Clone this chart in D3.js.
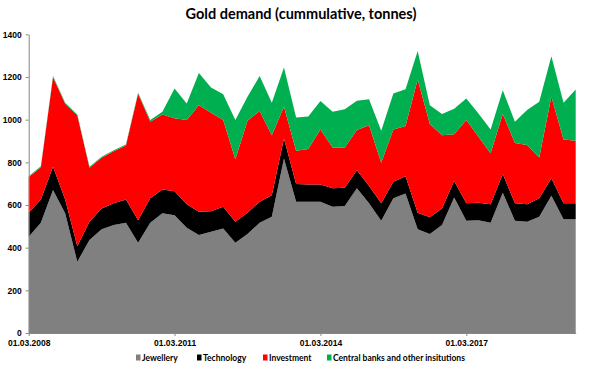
<!DOCTYPE html>
<html>
<head>
<meta charset="utf-8">
<script src="https://cdn.jsdelivr.net/npm/d3@7"></script>
<style>
  body { margin: 0; background: #fff; }
  svg { display: block; font-family: Lato, 'Open Sans', sans-serif; }
  .axis text { font-size: 8.5px; font-weight: bold; fill: #000; }
  .axis path, .axis line { stroke: #868686; }
</style>
</head>
<body>
<script>
// quarterly dates, 01.03.2008 .. 01.06.2019
const quarters = [
  '01.03.2008', '01.06.2008', '01.09.2008', '01.12.2008',
  '01.03.2009', '01.06.2009', '01.09.2009', '01.12.2009',
  '01.03.2010', '01.06.2010', '01.09.2010', '01.12.2010',
  '01.03.2011', '01.06.2011', '01.09.2011', '01.12.2011',
  '01.03.2012', '01.06.2012', '01.09.2012', '01.12.2012',
  '01.03.2013', '01.06.2013', '01.09.2013', '01.12.2013',
  '01.03.2014', '01.06.2014', '01.09.2014', '01.12.2014',
  '01.03.2015', '01.06.2015', '01.09.2015', '01.12.2015',
  '01.03.2016', '01.06.2016', '01.09.2016', '01.12.2016',
  '01.03.2017', '01.06.2017', '01.09.2017', '01.12.2017',
  '01.03.2018', '01.06.2018', '01.09.2018', '01.12.2018',
  '01.03.2019', '01.06.2019'
];
const tickLabels = ['01.03.2008', '01.03.2011', '01.03.2014', '01.03.2017'];
const yTicks = [0, 200, 400, 600, 800, 1000, 1200, 1400];

const jewellery = [
  451, 517, 670, 561, 334, 436, 486, 506, 517, 423, 517, 561,
  552, 493, 459, 474, 490, 423, 464, 517, 545, 818, 615, 615,
  615, 592, 595, 678, 608, 526, 631, 654, 486, 464, 506, 635,
  526, 529, 517, 657, 526, 521, 545, 643, 533, 533
];
const technology = [
  113, 109, 109, 65, 73, 85, 98, 102, 109, 106, 114, 112,
  112, 110, 109, 97, 102, 98, 100, 98, 101, 94, 83, 81,
  81, 86, 86, 85, 81, 82, 78, 81, 78, 78, 78, 78,
  82, 81, 87, 88, 82, 83, 86, 82, 75, 75
];
const investment = [
  166, 151, 420, 448, 612, 253, 237, 244, 253, 592, 359, 351,
  343, 395, 500, 461, 406, 293, 431, 426, 281, 148, 156, 166,
  258, 192, 189, 188, 285, 190, 245, 235, 624, 437, 343, 218,
  390, 310, 238, 281, 283, 277, 192, 382, 299, 293
];
const centralBanks = [
  5, 5, 5, 5, 5, 5, 5, 5, 5, 5, 8, 13,
  139, 78, 151, 119, 121, 184, 112, 163, 152, 184, 156, 153,
  133, 167, 179, 137, 122, 150, 169, 173, 134, 89, 99, 120,
  101, 109, 112, 112, 99, 164, 261, 190, 172, 240
];

const seriesNames = ['Jewellery', 'Technology', 'Investment', 'Central banks and other insitutions'];
const colors = ['#808080', '#000000', '#ff0000', '#00b050'];

const width = 602;
const height = 375;
const svg = d3.select('body').append('svg')
  .attr('width', width)
  .attr('height', height);

// title
svg.append('text')
  .attr('x', 301)
  .attr('y', 19)
  .attr('text-anchor', 'middle')
  .style('font-size', '14.5px')
  .style('font-weight', 'bold')
  .text('Gold demand (cummulative, tonnes)');

const x = d3.scalePoint().domain(quarters).range([28.7, 575.7]);
const y = d3.scaleLinear().domain([0, 1400]).range([333, 34.3]);

const rows = quarters.map((q, i) => ({
  q,
  Jewellery: jewellery[i],
  Technology: technology[i],
  Investment: investment[i],
  'Central banks and other insitutions': centralBanks[i]
}));

const stacked = d3.stack().keys(seriesNames)(rows);

const area = d3.area()
  .x((d) => x(d.data.q))
  .y0((d) => y(d[0]))
  .y1((d) => y(d[1]));

svg.append('g')
  .selectAll('path')
  .data(stacked)
  .enter()
  .append('path')
  .attr('d', area)
  .attr('fill', (d, i) => colors[i]);

// axes
svg.append('g')
  .attr('class', 'axis')
  .attr('transform', 'translate(28.7,0)')
  .call(d3.axisLeft(y).tickValues(yTicks).tickFormat(d3.format('d'))
    .tickSize(3).tickSizeOuter(0).tickPadding(4));

svg.append('g')
  .attr('class', 'axis')
  .attr('transform', 'translate(0,333)')
  .call(d3.axisBottom(x).tickValues(tickLabels).tickSize(3).tickSizeOuter(0).tickPadding(4));

// legend
const legendX = [136, 197, 263, 327];
const legend = svg.append('g').attr('transform', 'translate(0,358)');
seriesNames.forEach((name, i) => {
  legend.append('rect')
    .attr('x', legendX[i])
    .attr('y', -3.5)
    .attr('width', 4.5)
    .attr('height', 6)
    .attr('fill', colors[i]);
  legend.append('text')
    .attr('x', legendX[i] + 6)
    .attr('y', 3)
    .style('font-size', '8.5px')
    .style('font-weight', 'bold')
    .text(name);
});
</script>
</body>
</html>
